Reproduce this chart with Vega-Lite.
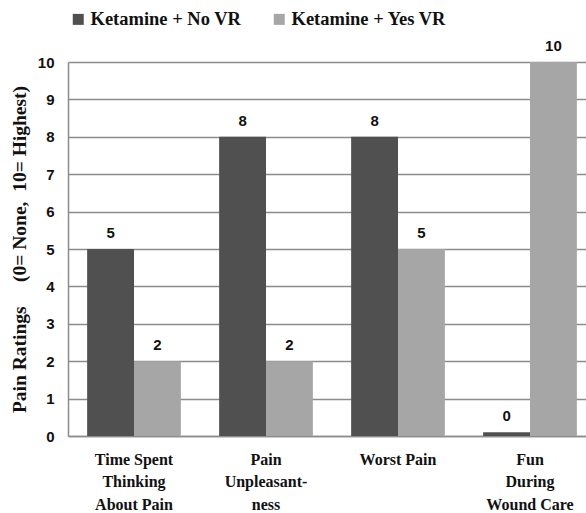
{
  "$schema": "https://vega.github.io/schema/vega-lite/v6.json",
  "width": 528,
  "height": 374,
  "autosize": {"type": "none"},
  "padding": {"left": 68, "top": 62, "right": 0, "bottom": 77},
  "background": "white",
  "data": {
    "values": [
      {"measure": "Time Spent Thinking About Pain", "group": "Ketamine + No VR", "rating": 5},
      {"measure": "Time Spent Thinking About Pain", "group": "Ketamine + Yes VR", "rating": 2},
      {"measure": "Pain Unpleasant-ness", "group": "Ketamine + No VR", "rating": 8},
      {"measure": "Pain Unpleasant-ness", "group": "Ketamine + Yes VR", "rating": 2},
      {"measure": "Worst Pain", "group": "Ketamine + No VR", "rating": 8},
      {"measure": "Worst Pain", "group": "Ketamine + Yes VR", "rating": 5},
      {"measure": "Fun During Wound Care", "group": "Ketamine + No VR", "rating": 0.1},
      {"measure": "Fun During Wound Care", "group": "Ketamine + Yes VR", "rating": 10}
    ]
  },
  "encoding": {
    "x": {
      "field": "measure",
      "type": "nominal",
      "sort": null,
      "scale": {"paddingInner": 0.29, "paddingOuter": 0.145},
      "axis": {
        "title": null,
        "labelAngle": 0,
        "labelFont": "Liberation Serif",
        "labelFontWeight": "bold",
        "labelFontSize": 16,
        "labelColor": "#111111",
        "labelPadding": 15,
        "labelLineHeight": 22.5,
        "labelBaseline": "top",
        "ticks": false,
        "domainColor": "#8c8c8c",
        "domainWidth": 1.5,
        "labelExpr": "datum.value == 'Time Spent Thinking About Pain' ? ['Time Spent', 'Thinking', 'About Pain'] : datum.value == 'Pain Unpleasant-ness' ? ['Pain', 'Unpleasant-', 'ness'] : datum.value == 'Fun During Wound Care' ? ['Fun', 'During', 'Wound Care'] : datum.value"
      }
    },
    "y": {
      "field": "rating",
      "type": "quantitative",
      "scale": {"domain": [0, 10], "nice": false},
      "axis": {
        "title": "Pain Ratings\u00a0\u00a0\u00a0\u00a0\u00a0(0= None,\u00a0\u00a010= Highest)",
        "titleFont": "Liberation Serif",
        "titleFontWeight": "bold",
        "titleFontSize": 19.5,
        "titleColor": "#111111",
        "titlePadding": 8,
        "values": [0, 1, 2, 3, 4, 5, 6, 7, 8, 9, 10],
        "labelFont": "Liberation Sans",
        "labelFontWeight": "bold",
        "labelFontSize": 15,
        "labelColor": "#111111",
        "labelPadding": 14,
        "ticks": false,
        "grid": true,
        "gridColor": "#8c8c8c",
        "gridWidth": 1.5,
        "domainColor": "#8c8c8c",
        "domainWidth": 1.5
      }
    }
  },
  "layer": [
    {
      "mark": {"type": "bar"},
      "encoding": {
        "xOffset": {"field": "group", "type": "nominal"},
        "color": {
          "field": "group",
          "type": "nominal",
          "scale": {"domain": ["Ketamine + No VR", "Ketamine + Yes VR"], "range": ["#505050", "#a6a6a6"]},
          "legend": {
            "title": null,
            "orient": "none",
            "legendX": 1,
            "legendY": -52,
            "direction": "horizontal",
            "symbolType": "square",
            "symbolSize": 121,
            "symbolStrokeWidth": 0,
            "labelFont": "Liberation Serif",
            "labelFontWeight": "bold",
            "labelFontSize": 18.5,
            "labelColor": "#111111",
            "labelOffset": 3,
            "columnPadding": 28,
            "labelLimit": 300
          }
        }
      }
    },
    {
      "mark": {"type": "text", "baseline": "bottom", "dy": -8, "font": "Liberation Sans", "fontWeight": "bold", "fontSize": 15, "color": "#111111"},
      "encoding": {
        "xOffset": {"field": "group", "type": "nominal"},
        "text": {"field": "rating", "type": "quantitative", "format": ".0f"}
      }
    }
  ],
  "config": {"view": {"stroke": null}}
}
